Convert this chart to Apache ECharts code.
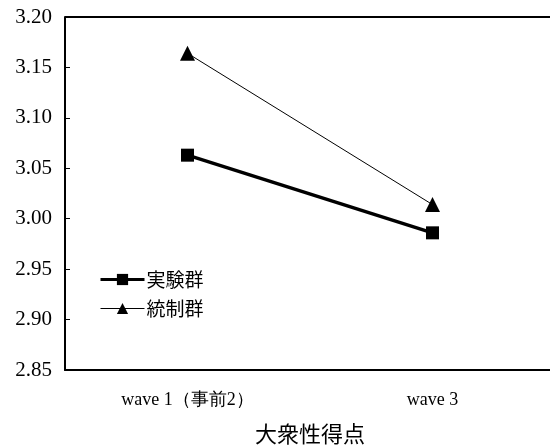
<!DOCTYPE html>
<html>
<head>
<meta charset="utf-8">
<script src="https://cdn.jsdelivr.net/npm/echarts@6/dist/echarts.min.js"></script>
<style>
  html, body { margin: 0; padding: 0; background: #fff; }
  #chart { width: 550px; height: 448px; }
</style>
</head>
<body>
<div id="chart"></div>
<script>
// Survey waves and group means of the popularity score
const categories = ['wave 1（事前2）', 'wave 3'];
const experimentalGroup = [3.063, 2.986];
const controlGroup = [3.164, 3.014];
const yTicks = { min: 2.85, max: 3.20, step: 0.05 };

const serif = '"Liberation Serif", "Times New Roman", serif';
const cjk = '"Noto Sans CJK JP", "Noto Sans", sans-serif';

const chart = echarts.init(document.getElementById('chart'));
chart.setOption({
  animation: false,
  backgroundColor: '#fff',
  grid: {
    left: 65, top: 17, width: 490, height: 353, show: false,
    containLabel: false, outerBoundsMode: 'none'
  },
  legend: {
    left: 94, top: 265, orient: 'vertical',
    itemWidth: 44, itemHeight: 14, itemGap: 10,
    textStyle: { fontFamily: cjk, fontSize: 19, color: '#000', padding: [0, 0, 0, -3] },
    data: [
      { name: '実験群', lineStyle: { width: 3 } },
      { name: '統制群', lineStyle: { width: 1 } }
    ]
  },
  xAxis: {
    type: 'category',
    data: categories,
    name: '大衆性得点',
    nameLocation: 'middle',
    nameGap: 53,
    nameTextStyle: { fontFamily: cjk, fontSize: 22, color: '#000' },
    axisLine: { lineStyle: { color: '#000', width: 2 } },
    axisTick: { inside: true, length: 6, lineStyle: { color: '#000', width: 1 } },
    axisLabel: { fontFamily: serif, fontSize: 18, color: '#000', margin: 21 }
  },
  yAxis: {
    type: 'value',
    min: yTicks.min, max: yTicks.max, interval: yTicks.step,
    axisLine: { show: true, lineStyle: { color: '#000', width: 2 } },
    axisTick: { show: true, inside: true, length: 5, lineStyle: { color: '#000', width: 1 } },
    splitLine: { show: false },
    axisLabel: {
      fontFamily: serif, fontSize: 21, color: '#000', margin: 13,
      formatter: v => v.toFixed(2)
    }
  },
  graphic: [{
    type: 'line', silent: true,
    shape: { x1: 65, y1: 17, x2: 550, y2: 17 },
    style: { stroke: '#000', lineWidth: 2 }
  }],
  series: [
    {
      name: '実験群', type: 'line', data: experimentalGroup,
      symbol: 'rect', symbolSize: 13,
      lineStyle: { color: '#000', width: 3.5 },
      itemStyle: { color: '#000' }
    },
    {
      name: '統制群', type: 'line', data: controlGroup,
      symbol: 'triangle', symbolSize: 15,
      lineStyle: { color: '#000', width: 1 },
      itemStyle: { color: '#000' }
    }
  ]
});
</script>
</body>
</html>
